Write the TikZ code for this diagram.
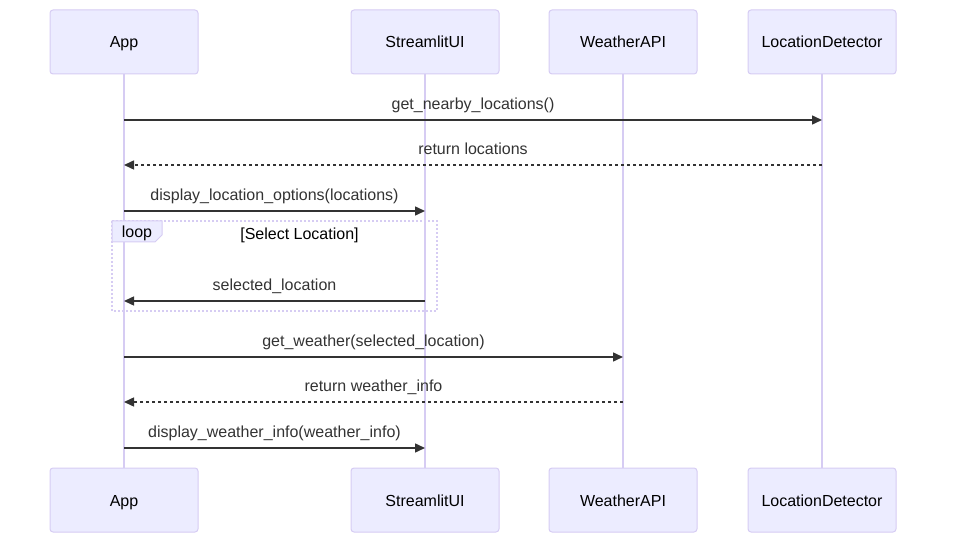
\documentclass[tikz,border=0pt]{standalone}
\usepackage{fontspec}
\setmainfont{Liberation Sans}
\usetikzlibrary{positioning,calc,arrows.meta}
\usepackage{xcolor}
\definecolor{actorfill}{HTML}{ECECFF}
\definecolor{actorline}{HTML}{D6CCF3}
\definecolor{msgline}{HTML}{333333}
\newlength\actorw
\newlength\actorh
\setlength{\actorw}{148pt}
\setlength{\actorh}{64pt}
\tikzset{
  actor/.style={draw=actorline, fill=actorfill, rounded corners=3pt, line width=1pt,
    minimum width=\actorw, minimum height=\actorh, text height=13.5pt, text depth=1.5pt,
    font=\fontsize{16}{19}\selectfont},
  lifeline/.style={draw=actorline, line width=1.5pt},
  call/.style={draw=msgline, line width=1.5pt, -{Triangle[length=10pt,width=9pt]}},
  reply/.style={call, dash pattern=on 3pt off 3pt},
  msglabel/.style={text=msgline, inner sep=0pt, text height=11.5pt, text depth=3.5pt,
    font=\fontsize{16}{19}\selectfont},
  loopframe/.style={draw=actorline, line width=1.5pt, dash pattern=on 2pt off 2pt}
}
% one message between two lifelines at height #3
\newcommand{\seqmsg}[5]{
  \coordinate (m#3) at (0,#3);
  \draw[#4] (#1 |- m#3) -- (#2 |- m#3);
  \node[msglabel] (l#3) at ($(#1 |- m#3)!0.5!(#2 |- m#3)+(0,-14.5)$) {#5};
}

\begin{document}
\begin{tikzpicture}[x=1pt,y=-1pt]
    \useasboundingbox (0,0) rectangle (954,548);
    % actors, top and bottom
    \node[actor] (App) at (124,42) {App};
    \node[actor] (UI) at (425,42) {StreamlitUI};
    \node[actor] (API) at (623,42) {WeatherAPI};
    \node[actor] (LD) at (822,42) {LocationDetector};
    \node[actor] (AppB) at (124,500) {App};
    \node[actor] (UIB) at (425,500) {StreamlitUI};
    \node[actor] (APIB) at (623,500) {WeatherAPI};
    \node[actor] (LDB) at (822,500) {LocationDetector};
    \foreach \a in {App,UI,API,LD}
      \draw[lifeline] (\a) -- (\a B);
    % messages
    \seqmsg{App}{LD}{120}{call}{get\_nearby\_locations()}
    \seqmsg{LD}{App}{165}{reply}{return locations}
    \seqmsg{App}{UI}{211}{call}{display\_location\_options(locations)}
    % loop frame
    \draw[loopframe] (112,221) rectangle (437,311);
    \draw[draw=actorline, fill=actorfill, line width=1pt]
      (112,221) -- (162,221) -- (162,235) -- (155,242) -- (112,242) -- cycle;
    \node[msglabel, text=black] (looptag) at (137,234) {loop};
    \node[msglabel, text=black] (loopcond) at (299.5,235.5) {[Select Location]};
    \seqmsg{UI}{App}{301}{call}{selected\_location}
    \seqmsg{App}{API}{357}{call}{get\_weather(selected\_location)}
    \seqmsg{API}{App}{402}{reply}{return weather\_info}
    \seqmsg{App}{UI}{448}{call}{display\_weather\_info(weather\_info)}
\end{tikzpicture}
\end{document}
